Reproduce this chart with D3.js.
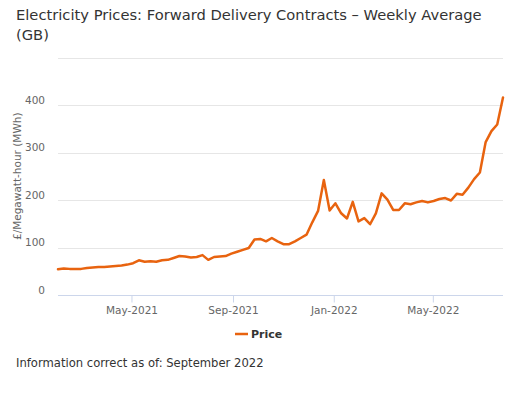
<!DOCTYPE html>
<html>
<head>
<meta charset="utf-8">
<script src="https://cdn.jsdelivr.net/npm/d3@7/dist/d3.min.js"></script>
<style>
  html, body { margin: 0; padding: 0; background: #fff; }
  svg { display: block; font-family: "DejaVu Sans", sans-serif; }
</style>
</head>
<body>
<svg id="chart" width="512" height="393"></svg>
<script>
// ---- Data ----
const startDate = "2021-02-01";
const prices = [
  54, 56, 55, 55, 55, 57, 58, 59, 59, 60,
  61, 62, 64, 67, 73, 70, 71, 70, 73, 74,
  78, 82, 81, 79, 80, 84, 74, 80, 81, 82,
  87, 91, 95, 99, 117, 118, 113, 120, 113, 107,
  107, 113, 120, 127, 153, 177, 242, 178, 193, 172,
  161, 196, 155, 162, 149, 172, 214, 201, 179, 179,
  193, 191, 195, 198, 195, 198, 202, 204, 199, 213,
  211, 226, 244, 258, 322, 345, 359, 416
];
const yTicks = [0, 100, 200, 300, 400, 500];
const xTickDates = ["2021-05-01", "2021-09-01", "2022-01-01", "2022-05-01"];
const titleLines = ["Electricity Prices: Forward Delivery Contracts – Weekly Average", "(GB)"];
const yAxisTitle = "£/Megawatt-hour (MWh)";
const seriesName = "Price";
const footerText = "Information correct as of: September 2022";

// ---- Build ----
const parse = d3.utcParse("%Y-%m-%d");
const t0 = parse(startDate);
const data = prices.map((v, i) => ({ date: d3.utcDay.offset(t0, 7 * i), value: v }));

const svg = d3.select("#chart");
const plot = { left: 58, right: 503, top: 57.5, bottom: 295 };
const color = "#e8630f";

const x = d3.scaleUtc()
  .domain(d3.extent(data, d => d.date))
  .range([plot.left, plot.right]);
const y = d3.scaleLinear().domain([0, 500]).range([plot.bottom, plot.top]);

// Title
const title = svg.append("text")
  .attr("x", 16).attr("y", 20)
  .attr("fill", "#333").style("font-size", "14.7px");
titleLines.forEach((l, i) => {
  title.append("tspan").attr("x", 16).attr("dy", i === 0 ? 0 : 20).text(l);
});

// Gridlines
svg.append("g").selectAll("line").data(yTicks.filter(d => d > 0)).join("line")
  .attr("x1", plot.left).attr("x2", plot.right)
  .attr("y1", d => Math.round(y(d)) + 0.5).attr("y2", d => Math.round(y(d)) + 0.5)
  .attr("stroke", "#e6e6e6").attr("stroke-width", 1);

// Y axis labels
const yAxis = d3.axisLeft(y).tickValues(yTicks.filter(d => d < 500)).tickSize(0).tickPadding(0);
const gy = svg.append("g").attr("transform", `translate(${plot.left - 13},0)`).call(yAxis);
gy.select(".domain").remove();
gy.selectAll("text")
  .attr("fill", "#666").style("font-size", "10.5px")
  .style("font-family", "DejaVu Sans, sans-serif")
  .attr("dy", "-0.15em");

// Y axis title
svg.append("text")
  .attr("transform", `translate(21,${(plot.top + plot.bottom) / 2}) rotate(-90)`)
  .attr("text-anchor", "middle")
  .attr("fill", "#666").style("font-size", "10.5px")
  .text(yAxisTitle);

// X axis
const xAxis = d3.axisBottom(x)
  .tickValues(xTickDates.map(parse))
  .tickFormat(d3.utcFormat("%b-%Y"))
  .tickSize(7).tickPadding(4);
const gx = svg.append("g").attr("transform", `translate(0,${plot.bottom + 0.5})`).call(xAxis);
gx.select(".domain").attr("d", `M${plot.left},0H${plot.right}`).attr("stroke", "#ccd6eb");
gx.selectAll(".tick line").attr("stroke", "#ccd6eb");
gx.selectAll("text").attr("fill", "#666").style("font-size", "10.5px")
  .style("font-family", "DejaVu Sans, sans-serif");

// Line
const line = d3.line().x(d => x(d.date)).y(d => y(d.value)).curve(d3.curveLinear);
svg.append("path").datum(data)
  .attr("d", line)
  .attr("fill", "none")
  .attr("stroke", color)
  .attr("stroke-width", 2.5)
  .attr("stroke-linejoin", "round")
  .attr("stroke-linecap", "round");

// Legend
const lg = svg.append("g").attr("transform", "translate(235,334)");
lg.append("line").attr("x1", 0).attr("x2", 13).attr("y1", 0).attr("y2", 0)
  .attr("stroke", color).attr("stroke-width", 2.5);
lg.append("text").attr("x", 16).attr("y", 4)
  .attr("fill", "#333").style("font-size", "11px").style("font-weight", "bold")
  .text(seriesName);

// Footer
svg.append("text").attr("x", 16).attr("y", 367)
  .attr("fill", "#333").style("font-size", "11.6px")
  .text(footerText);
</script>
</body>
</html>
